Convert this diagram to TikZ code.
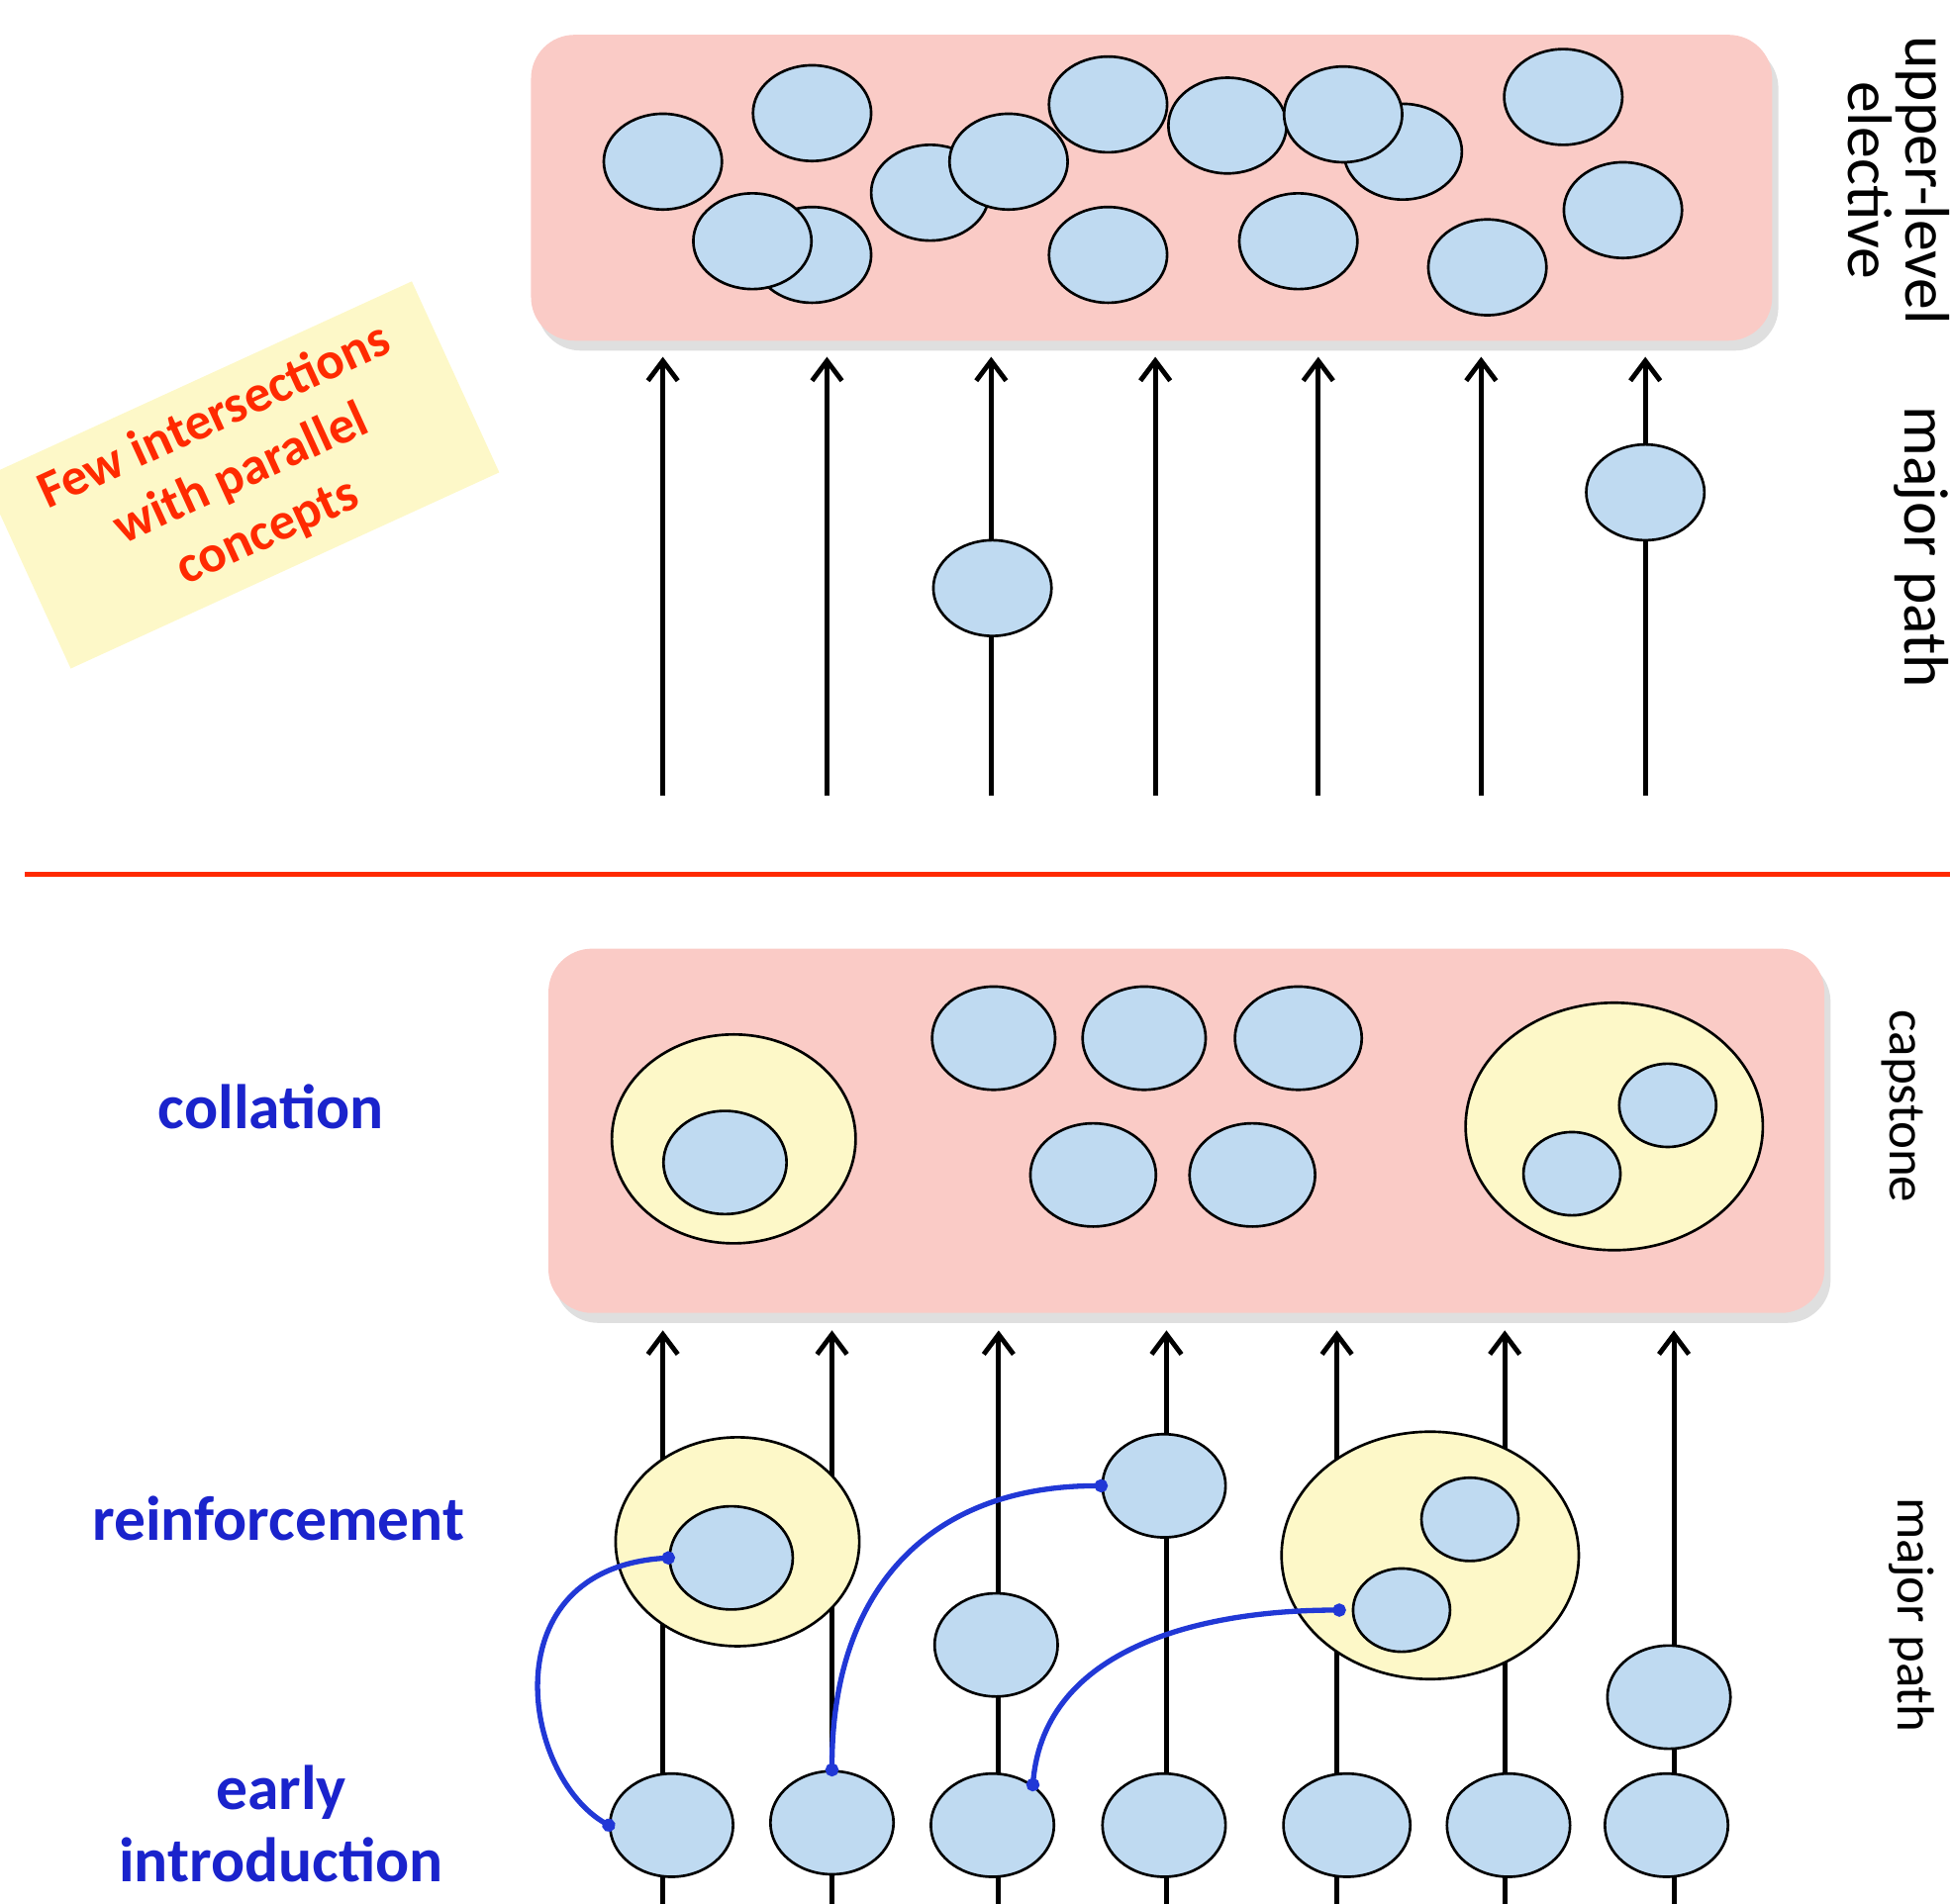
\documentclass[tikz,border=0pt]{standalone}
\usepackage{fontspec}
\setmainfont{Carlito}
\usepackage{tikz}
\usetikzlibrary{shapes.geometric,arrows.meta,shadows}

\definecolor{boxpink}{RGB}{250,203,198}
\definecolor{conceptblue}{RGB}{191,218,241}
\definecolor{clusteryellow}{RGB}{253,248,200}
\definecolor{labelblue}{RGB}{26,35,204}
\definecolor{linkblue}{RGB}{33,56,214}
\definecolor{alertred}{RGB}{255,42,0}

\begin{document}
\begin{tikzpicture}[
    x=0.1mm, y=-0.1mm,
    stage/.style={rectangle, rounded corners=3.5mm, fill=boxpink, inner sep=0,
        drop shadow={shadow xshift=0.5mm, shadow yshift=-0.8mm, opacity=0.25}},
    concept/.style={ellipse, draw, fill=conceptblue, line width=0.6pt, inner sep=0,
        minimum width=9.5mm, minimum height=7.7mm},
    lconcept/.style={concept, minimum width=9.9mm, minimum height=8.3mm},
    sconcept/.style={concept, minimum width=7.8mm, minimum height=6.7mm},
    cluster/.style={ellipse, draw, fill=clusteryellow, line width=0.6pt, inner sep=0,
        minimum width=19.6mm, minimum height=16.8mm},
    bigcluster/.style={cluster, minimum width=23.9mm, minimum height=19.9mm},
    track/.style={-{Straight Barb[length=1.6mm, width=2.4mm]}, line width=1.1pt},
    link/.style={draw=linkblue, line width=1.2pt, {Circle[length=3pt]}-{Circle[length=3pt]},
        shorten <=-1.5pt, shorten >=-1.5pt},
    divider/.style={draw=alertred, line width=1.2pt},
    level/.style={font=\fontsize{14.4}{16.5}\selectfont\bfseries, text=labelblue, align=center},
    side/.style={rotate=-90, align=center, font=\fontsize{14.4}{13}\selectfont},
    note/.style={fill=clusteryellow, text=alertred, font=\fontsize{12}{14.5}\selectfont\bfseries,
        align=center, minimum width=37.9mm, minimum height=16.9mm, inner sep=0}
]
\useasboundingbox (0,0) rectangle (1568,1531);

% upper half
\node[stage, minimum width=99.8mm, minimum height=24.6mm] (elective) at (926,151) {};
\foreach \x [count=\i] in {533,665,797,929,1060,1191,1323} {
    \coordinate (ub\i) at (\x,640);
    \coordinate (ut\i) at (\x,287);
    \draw[track] (ub\i) -- (ut\i);
}
\node[concept] (u1) at (533,130) {};
\node[concept] (u2) at (653,91) {};
\node[concept] (u3b) at (653,205) {};
\node[concept] (u3) at (605,194) {};
\node[concept] (u4b) at (748,155) {};
\node[concept] (u4) at (811,130) {};
\node[concept] (u5) at (891,84) {};
\node[concept] (u6) at (891,205) {};
\node[concept] (u7) at (987,101) {};
\node[concept] (u8b) at (1128,122) {};
\node[concept] (u8) at (1080,92) {};
\node[concept] (u9) at (1044,194) {};
\node[concept] (u10) at (1257,78) {};
\node[concept] (u11) at (1305,169) {};
\node[concept] (u12) at (1196,215) {};
\node[concept] (m3) at (798,473) {};
\node[concept] (m7) at (1323,396) {};

\node[note, rotate=24.6] (remark) at (194,382) {Few intersections\\with parallel\\concepts};

\node[side] (upper) at (1527,145) {upper-level\\elective};
\node[side] (majortop) at (1545,440) {major path};

\coordinate (divl) at (20,703);
\coordinate (divr) at (1568,703);
\draw[divider] (divl) -- (divr);

% lower half
\node[stage, minimum width=102.6mm, minimum height=29.3mm] (capstone) at (954,909.5) {};
\foreach \x [count=\i] in {533,669,803,938,1075,1210,1346} {
    \coordinate (lb\i) at (\x,1531);
    \coordinate (lt\i) at (\x,1070);
    \draw[track] (lb\i) -- (lt\i);
}
\node[cluster] (c1) at (590,916) {};
\node[lconcept] (c1a) at (583,935) {};
\node[lconcept] (c2) at (799,835) {};
\node[lconcept] (c3) at (920,835) {};
\node[lconcept, minimum width=10.2mm] (c4) at (1044,835) {};
\node[lconcept, minimum width=10.1mm] (c5) at (879,945) {};
\node[lconcept, minimum width=10.1mm] (c6) at (1007,945) {};
\node[bigcluster] (c7) at (1298,906) {};
\node[sconcept] (c7a) at (1341,889) {};
\node[sconcept] (c7b) at (1264,944) {};

\node[cluster] (r1) at (593,1240) {};
\node[lconcept] (r1a) at (588,1253) {};
\node[lconcept] (r3) at (801,1323) {};
\node[lconcept] (r4) at (936,1195) {};
\node[bigcluster] (r5) at (1150,1251) {};
\node[sconcept] (r5a) at (1182,1222) {};
\node[sconcept] (r5b) at (1127,1295) {};
\node[lconcept] (r7) at (1342,1365) {};

\node[lconcept] (e1) at (540,1468) {};
\node[lconcept] (e2) at (669,1466) {};
\node[lconcept] (e3) at (798,1468) {};
\node[lconcept] (e4) at (936,1468) {};
\node[lconcept, minimum width=10.2mm] (e5) at (1083,1468) {};
\node[lconcept] (e6) at (1213,1468) {};
\node[lconcept] (e7) at (1340,1468) {};

\draw[link] (e1.west) .. controls +(-70,-40) and +(-144,9) .. (r1a.west);
\draw[link] (e2.north) to[out=90, in=180, looseness=1.15] (r4.west);
\draw[link] (e3.45) to[out=85, in=180] ([xshift=-1mm]r5b.west);

\node[level] (collation) at (218,890) {collation};
\node[level] (reinforce) at (224,1221) {reinforcement};
\node[level] (early) at (226,1467) {early\\introduction};

\node[side, font=\fontsize{12}{14}\selectfont] (capst) at (1530,890) {capstone};
\node[side, font=\fontsize{12}{14}\selectfont] (majorbot) at (1537,1299) {major path};
\end{tikzpicture}
\end{document}
